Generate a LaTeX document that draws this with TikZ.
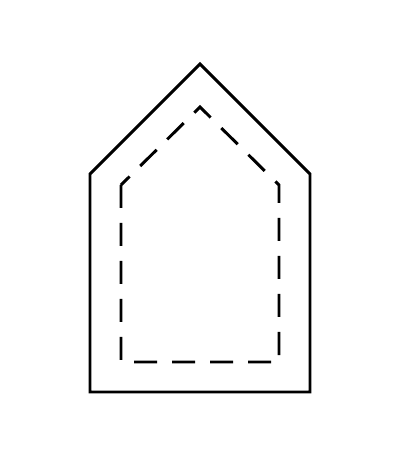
\documentclass[tikz,border=0pt]{standalone}
\usepackage{tikz}

\begin{document}
\begin{tikzpicture}[line width=2.1pt, line join=miter]
      \useasboundingbox (0, 0) rectangle (10, 11.55);

      % outer outline
      \draw (2.25, 1.75) -- (7.75, 1.75) -- (7.75, 7.2) -- (5, 9.95) -- (2.25, 7.2) -- cycle;

      % inner dashed outline
      \draw[dash pattern=on 0.575cm off 0.375cm] (3.025, 6.925) -- (3.025, 2.5) -- (6.975, 2.5) -- (6.975, 6.925) -- (5, 8.875) -- cycle;
  \end{tikzpicture}
\end{document}
